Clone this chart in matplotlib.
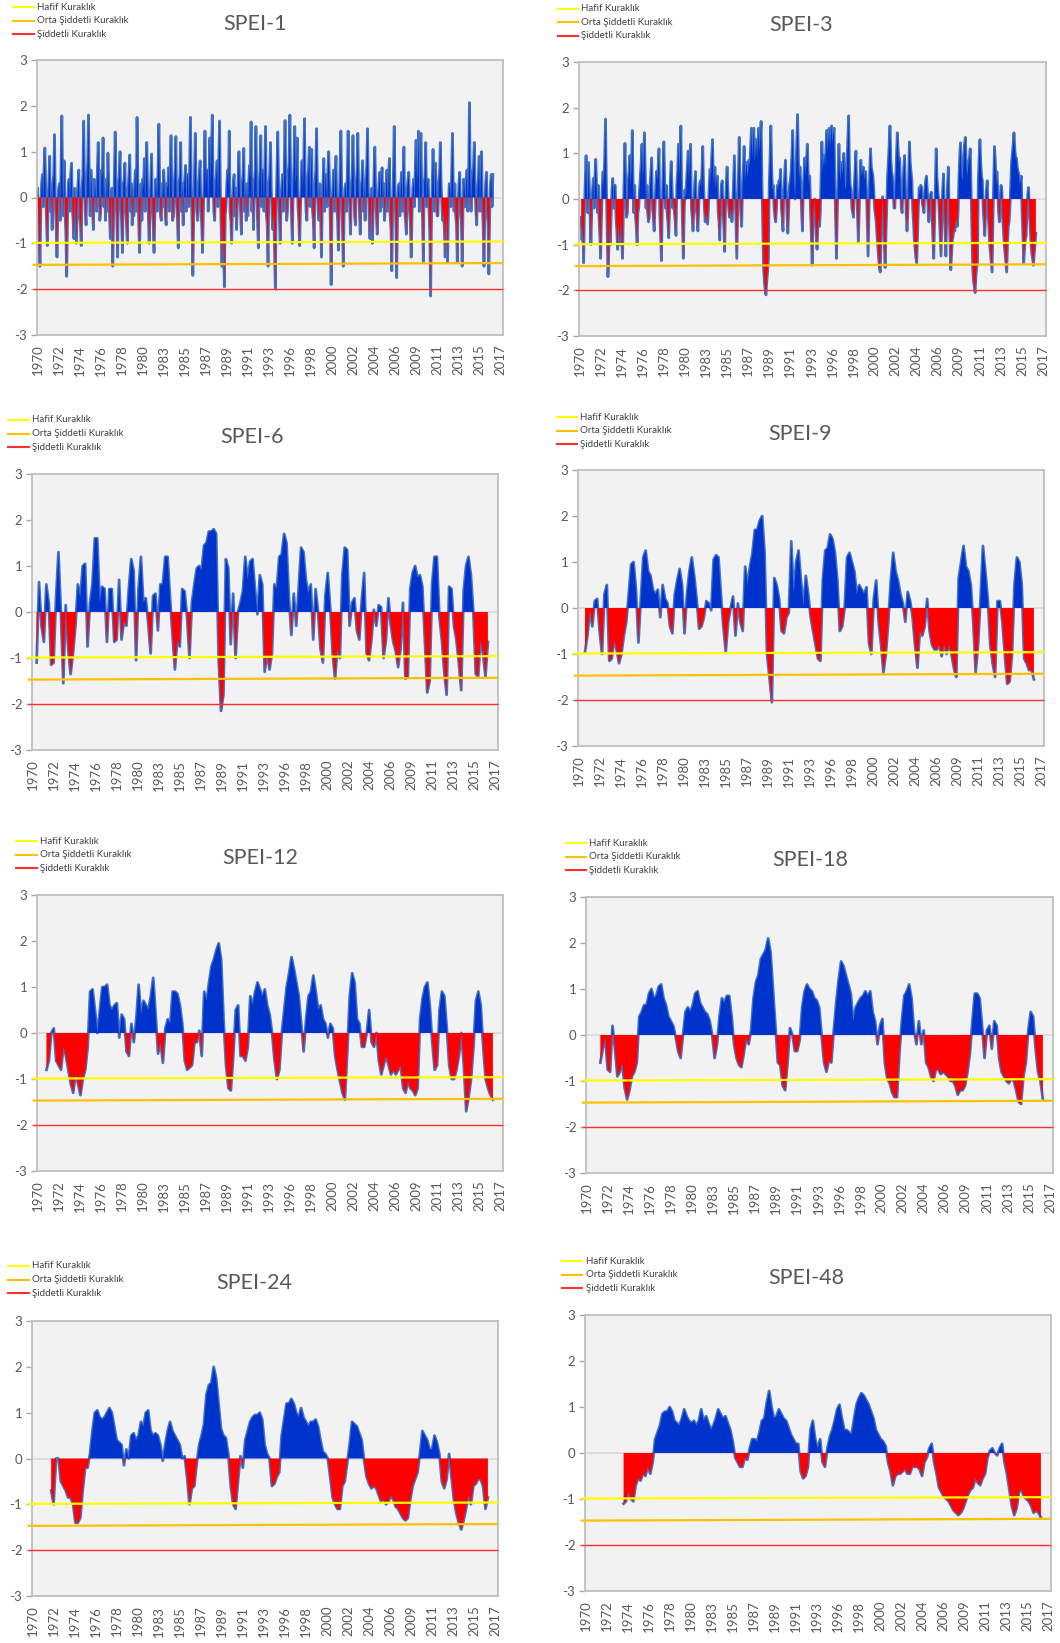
import numpy as np
import matplotlib
matplotlib.use("Agg")
import matplotlib.pyplot as plt
from matplotlib.lines import Line2D

FONT = ['Lato', 'DejaVu Sans']
plt.rcParams['font.family'] = FONT

# ---------------------------------------------------------------------------
# Data (month index 0 = January 1970). SPEI-1 and SPEI-3 are monthly,
# the longer scales are sampled every 3 months. Each series starts at the
# first month for which its accumulation window is complete.
# ---------------------------------------------------------------------------
N_SLOTS = 576          # monthly category slots, Jan 1970 .. Dec 2017
LABEL_STEP = 26        # a year label on every 26th month
FIRST_YEAR = 1970

# SPEI-1, one row per year (Jan .. Dec), 1970 .. 2016
spei_1 = [
    0.2, -0.4, -0.9, -1.5, -0.3, 0.3, 0.5, -0.2, 0.6, 1.08, 0.2, -0.5,
    -1.05, -0.2, 0.4, 0.9, -0.3, 0.2, -0.7, 0.3, 0.5, 1.37, -0.2, -0.6,
    -1.3, -0.4, 0.2, 0.3, -0.5, 0.6, 1.78, 0.3, -0.4, 0.8, -0.3, -0.8,
    -1.72, -0.5, 0.3, 0.4, -0.3, 0.5, 0.75, -0.2, -0.5, -0.9, 0.2, -0.4,
    -1.0, -0.3, 0.3, 0.6, -0.4, -0.6, -1.05, 0.2, 0.5, 1.67, 0.4, -0.3,
    -0.6, 0.3, 0.8, 1.8, 0.3, -0.4, 0.6, 0.2, -0.3, -0.7, 0.4, -0.2,
    0.3, -0.3, 0.6, 1.2, 0.2, -0.5, -0.3, 0.6, 0.4, 1.3, -0.2, 0.3,
    -0.5, 0.4, -0.3, 0.97, 0.3, -0.4, -0.9, -0.3, 0.2, -1.5, -0.4, 0.5,
    1.43, 0.2, -0.5, -1.3, 0.3, 0.5, 1.0, -0.2, -0.6, -1.2, 0.3, 0.4,
    0.75, -0.3, -0.6, -1.0, 0.2, 0.5, 0.93, -0.3, 0.3, -0.6, 0.2, -0.4,
    0.3, 0.6, -0.3, 1.75, 0.4, -0.5, -1.2, -0.4, 0.3, -0.5, 0.4, 0.2,
    0.85, -0.3, 0.5, 1.2, 0.3, -0.4, -1.0, -0.3, 0.4, 0.95, -0.2, -0.6,
    -1.2, -0.4, 0.4, 0.2, -0.3, 0.7, 1.6, 0.3, -0.4, -0.5, 0.3, -0.2,
    0.6, 0.2, -0.4, -0.6, 0.3, 0.2, 0.65, -0.3, 0.5, 1.35, 0.2, -0.5,
    -0.4, 0.3, 0.6, 1.33, -0.2, -0.5, -1.1, 0.3, 0.5, 1.2, -0.3, 0.3,
    -0.6, 0.2, 0.4, 0.7, -0.3, 0.4, 0.5, -0.2, 0.6, 1.75, 0.3, -0.6,
    -1.7, -0.5, 0.4, 1.4, 0.3, -0.3, -0.5, 0.2, 0.5, 0.8, -0.3, -0.6,
    -1.2, -0.3, 0.5, 1.45, 0.2, 0.6, 0.6, -0.3, 0.4, 1.3, 0.3, 0.9,
    1.8, 0.4, -0.3, -0.5, 0.3, 0.5, 0.8, -0.2, 0.7, 1.67, 0.2, -0.6,
    -1.5, -0.6, -1.2, -1.95, -0.4, -0.2, 0.3, 0.6, 0.2, 1.45, -0.3, -0.5,
    -1.0, -0.2, 0.3, 0.5, -0.4, 0.2, -0.7, -0.2, 0.4, 1.0, 0.2, -0.3,
    -0.8, 0.3, 0.5, 1.07, -0.3, 0.2, -0.5, 0.3, -0.4, 0.3, 0.7, 0.4,
    1.65, -0.3, 0.4, -0.7, 0.3, 0.6, 1.55, 0.2, -0.5, -1.1, 0.3, 0.6,
    1.35, -0.2, 0.6, 0.5, -0.3, 0.7, 1.55, -0.4, -0.6, -1.5, 0.3, 0.5,
    1.2, 0.2, -0.4, -0.7, -0.3, -1.2, -2.0, -0.3, 0.6, 1.43, 0.3, -0.4,
    -1.0, -0.2, 0.3, 0.5, -0.3, 0.6, 1.68, 0.4, -0.5, -0.3, 0.5, 0.8,
    1.8, 0.3, -0.4, -1.0, 0.2, 0.7, 1.55, 0.3, 0.5, 1.3, -0.2, -0.5,
    -1.05, -0.3, 0.4, 0.8, 0.2, 0.6, 1.72, 0.3, -0.3, -0.5, 0.4, 0.6,
    1.1, -0.2, 0.5, 1.05, -0.3, -0.5, -1.1, 0.3, 0.6, 1.5, 0.2, -0.3,
    -0.5, 0.3, -0.4, -1.3, -0.2, 0.4, 0.85, -0.3, 0.5, 0.3, -0.2, 0.6,
    1.0, 0.3, -0.6, -1.9, -0.4, 0.2, 0.6, -0.3, 0.4, 0.9, -0.2, -0.5,
    -1.15, -0.3, 0.5, 1.45, 0.2, -0.6, -1.5, -0.4, 0.2, 0.3, -0.3, 0.5,
    1.45, 0.3, -0.3, -0.8, 0.2, 0.5, 1.35, 0.3, -0.4, -0.6, 0.3, 0.6,
    1.4, 0.2, -0.3, -0.8, 0.2, 0.4, 0.8, -0.3, 0.3, -0.5, 0.4, 0.7,
    1.5, 0.2, -0.4, -0.9, -0.3, 0.2, -1.0, -0.3, 0.5, 1.1, 0.2, -0.4,
    -0.8, -0.2, 0.3, 0.55, -0.3, 0.4, 0.65, -0.2, 0.3, -0.5, -0.2, 0.3,
    0.6, -0.3, 0.4, 0.85, -0.4, -0.7, -1.6, -0.3, 0.5, 1.55, 0.2, -0.6,
    -1.75, -0.5, 0.2, 0.3, -0.4, 0.2, 0.55, -0.3, 0.4, 1.1, -0.3, -0.5,
    -0.8, 0.2, 0.4, 0.55, -0.3, -0.6, -1.3, -0.4, 0.2, 0.4, -0.2, 0.6,
    1.25, 0.3, 0.6, 1.45, -0.3, 0.4, 1.4, 0.2, -0.5, -1.4, 0.3, 0.5,
    1.2, -0.2, 0.3, 0.4, -0.3, -0.8, -2.15, -0.6, 0.3, 1.05, 0.3, -0.3,
    0.75, 0.2, -0.4, -0.4, 0.3, 0.5, 1.2, 0.3, -0.2, -0.5, -0.3, -0.7,
    -1.3, -0.4, -0.6, -1.4, -0.3, 0.3, 0.2, -0.2, 0.5, 1.4, 0.2, -0.3,
    0.3, -0.4, -0.6, -1.4, -0.2, 0.3, 0.55, -0.3, -0.5, -1.5, -0.3, 0.4,
    0.2, -0.2, 0.3, 0.6, -0.3, 0.5, 2.07, 0.4, -0.3, 0.3, 0.5, 0.7,
    1.2, 0.2, -0.3, -0.6, 0.2, 0.4, 0.9, -0.3, 0.5, 1.0, -0.2, -0.6,
    -1.5, -0.3, 0.3, 0.55, -0.3, -0.6, -1.67, -0.4, 0.3, 0.5, -0.2, 0.5,
]

# SPEI-3, monthly from March 1970, twelve values per row
spei_3 = [
    -0.4, -0.9, -0.5, -1.4, -0.3, 0.4, 0.95, 0.2, -0.3, 0.8, 0.3, -0.4,
    -1.0, -0.3, 0.2, 0.45, -0.2, 0.5, 0.87, 0.3, -0.3, 0.3, -0.4, -0.8,
    -1.3, -0.4, 0.3, 0.6, 0.2, 0.9, 1.75, 0.4, -0.6, -1.7, -1.2, -0.5,
    -1.0, -0.3, 0.2, 0.45, -0.2, 0.3, 0.3, -0.4, -0.7, -1.1, -0.5, -0.8,
    -1.0, -0.4, -0.9, -1.3, -0.3, 0.5, 1.22, 0.3, -0.4, -0.3, 0.4, 0.6,
    0.95, 0.3, 0.6, 1.5, 0.4, -0.3, 0.3, -0.4, -0.6, -1.0, -0.3, -0.2,
    0.2, 0.5, 0.8, 1.2, 0.4, 0.7, 1.45, 0.6, -0.2, 0.3, -0.3, -0.5,
    -0.4, 0.3, 0.6, 0.9, -0.2, -0.4, -0.7, -0.2, 0.3, 0.6, 0.4, 0.7,
    1.1, -0.3, -0.8, -1.35, -0.2, 0.6, 1.25, 0.4, -0.2, 0.3, -0.3, -0.5,
    -0.85, -0.2, 0.4, 0.82, 0.3, -0.2, 0.0, -0.3, -0.5, -0.8, 0.3, 0.6,
    1.2, 0.5, 0.9, 1.6, 0.2, -0.6, -1.3, -0.4, 0.2, 0.0, 0.4, 0.7,
    1.05, 0.4, 0.8, 1.2, -0.2, -0.4, -0.7, -0.2, 0.3, 0.6, -0.2, -0.4,
    -0.7, -0.2, 0.3, 0.4, 0.2, 0.6, 1.15, 0.3, -0.2, -0.5, -0.3, -0.4,
    -0.55, -0.2, 0.3, 0.65, 0.4, 0.9, 1.3, 0.5, 0.3, 0.7, 0.2, 0.4,
    0.5, -0.3, -0.5, -0.9, -0.2, 0.3, 0.4, -0.3, -0.6, -1.15, -0.2, 0.3,
    0.7, 0.2, -0.2, -0.4, -0.3, -0.2, -0.5, -0.2, 0.4, 0.95, 0.2, -0.6,
    -1.3, -0.4, 0.6, 1.35, 0.3, -0.3, -0.6, 0.2, 0.6, 1.15, 0.4, 0.6,
    0.8, 0.5, 0.6, 0.85, 0.7, 1.1, 1.55, 0.9, 1.2, 1.55, 0.8, 1.0,
    1.3, 0.9, 1.2, 1.55, 1.0, 1.3, 1.7, 0.4, -0.6, -1.5, -1.8, -2.0,
    -2.1, -1.8, -1.6, -1.3, 0.3, 0.9, 1.6, 0.7, 0.2, 0.3, -0.2, -0.4,
    -0.5, -0.2, 0.3, 0.2, 0.4, 0.3, 0.65, -0.2, -0.4, -0.7, 0.2, 0.5,
    0.85, 0.2, -0.4, -0.75, -0.2, 0.3, 0.4, 0.6, 1.0, 1.5, 0.6, 0.3,
    0.0, 0.6, 1.2, 1.85, 0.9, 0.4, 0.7, 0.3, -0.3, -0.7, 0.2, 0.6,
    0.9, 0.5, 0.8, 1.2, 0.6, 0.3, 0.5, -0.3, -0.8, -1.45, -0.5, -0.2,
    0.0, -0.4, -0.8, -1.1, -0.6, -0.4, -0.6, -0.3, 0.5, 1.25, 0.6, 0.8,
    0.95, 0.7, 1.1, 1.5, 1.0, 1.3, 1.55, 1.1, 1.4, 1.6, 1.2, 1.4,
    1.55, 0.3, -0.5, -1.3, -0.3, 0.5, 1.2, 0.6, 0.4, 0.8, 0.5, 0.7,
    1.0, 0.5, 0.2, 0.3, 0.8, 1.3, 1.82, 0.7, 0.3, 0.2, -0.2, -0.3,
    -0.4, 0.3, 0.7, 1.05, 0.2, -0.4, -0.95, -0.3, 0.4, 0.85, 0.5, 0.6,
    0.7, 0.4, 0.5, 0.6, 0.2, -0.5, -1.25, -0.3, 0.6, 1.1, 0.7, 0.6,
    0.5, 0.2, -0.2, -0.35, -0.5, -0.8, -1.05, -1.3, -1.5, -1.6, -0.9, -0.3,
    0.05, -0.4, -1.0, -1.5, -0.8, -0.2, 0.5, 0.8, 1.2, 1.6, 0.9, 0.6,
    0.5, 0.2, -0.2, -0.2, 0.4, 0.9, 1.45, 1.1, 0.8, 0.9, 0.3, -0.2,
    -0.3, 0.3, 0.7, 0.95, 0.3, -0.3, -0.7, -0.3, 0.5, 1.25, 0.8, 0.6,
    0.4, -0.2, -0.5, -0.9, -1.1, -1.3, -1.4, -0.8, -0.2, 0.25, 0.1, 0.3,
    0.25, -0.1, -0.2, -0.3, 0.2, 0.4, 0.5, 0.2, -0.2, -0.5, -0.2, 0.1,
    0.15, -0.4, -0.9, -1.3, -0.5, 0.3, 1.1, 0.5, 0.2, 0.0, -0.4, -0.8,
    -1.25, -0.5, 0.2, 0.55, -0.2, -0.7, -1.25, -0.4, 0.3, 0.7, -0.3, -0.9,
    -1.55, -1.2, -0.9, -0.8, -0.6, -0.7, -0.5, -0.4, -0.6, -0.3, 0.4, 0.9,
    1.23, 0.7, 0.4, 0.5, 0.9, 1.2, 1.35, 0.8, 0.5, 0.6, 0.8, 0.9,
    1.1, 0.3, -0.6, -1.5, -1.8, -1.9, -2.05, -1.7, -1.5, -1.4, 0.4, 0.9,
    1.3, 0.8, 0.5, 0.4, -0.2, -0.5, -0.8, -0.3, 0.2, 0.4, -0.3, -0.6,
    -1.0, -1.2, -1.4, -1.6, -0.5, 0.4, 1.15, 0.8, 0.3, 0.6, 0.2, -0.3,
    -0.5, -0.2, 0.3, 0.2, -0.4, -0.7, -1.0, -1.2, -1.4, -1.6, -1.0, -0.6,
    -0.5, -0.2, 0.3, 0.8, 1.0, 1.2, 1.45, 1.1, 0.9, 0.9, 0.7, 0.6,
    0.55, 0.3, 0.4, 0.5, -0.3, -0.8, -1.4, -1.1, -0.9, -0.8, -0.3, 0.1,
    0.25, -0.3, -0.6, -1.0, -1.2, -1.3, -1.45, -1.2, -1.0, -0.75,
]

spei_6 = [
    -1.1, 0.65, -0.3, -0.65, 0.6, 0.2, -1.15, -1.1, 0.3, 1.3,
    0.0, -1.55, 0.15, -0.8, -1.35, -0.9, -0.3, 0.6, 0.3, 1.0,
    1.05, -0.75, 0.2, 0.6, 1.6, 1.6, 0.2, 0.55, 0.5, -0.65,
    0.5, 0.5, -0.65, -0.6, 0.7, -0.6, -0.2, -0.3, 0.5, 1.15,
    0.9, -1.05, 0.5, 1.2, 0.2, 0.3, -0.25, -0.9, 0.35, 0.4,
    -0.4, 0.6, 0.6, 1.2, 1.2, 0.3, -0.5, -1.25, -0.6, -0.75,
    0.5, 0.45, -0.1, -1.0, 0.2, 0.6, 0.95, 1.0, 0.9, 1.45,
    1.5, 1.75, 1.75, 1.8, 1.7, -1.0, -2.15, -1.8, 1.15, 0.95,
    -0.7, 0.4, -1.0, 0.0, 0.2, 0.45, 1.2, 0.7, 1.1, 1.15,
    0.5, -0.05, 0.8, 0.6, -1.3, -0.9, -1.25, -0.9, 0.6, 0.5,
    1.2, 1.25, 1.7, 1.5, 0.3, -0.5, 0.4, -0.3, 0.5, 1.4,
    1.3, 0.7, 0.4, 0.6, -0.6, 0.5, 0.0, -0.8, -1.1, 0.35,
    0.85, 0.1, -0.9, -1.45, -0.8, -1.0, 0.8, 1.4, 1.35, -0.3,
    0.2, 0.3, -0.4, -0.6, 0.25, 0.85, -0.9, -1.05, -0.6, 0.05,
    -0.3, 0.15, 0.1, -1.0, -0.6, 0.3, -0.3, -0.65, -0.85, -1.2,
    -0.8, 0.2, -1.45, -1.4, 0.5, 0.85, 1.0, 0.75, 0.8, 0.55,
    -0.6, -1.75, -1.5, 0.6, 1.2, 1.2, -0.1, -0.6, -1.3, -1.8,
    0.55, 0.5, -0.3, -0.6, -1.1, -1.7, 0.45, 1.0, 1.2, 0.8,
    0.0, -1.35, -1.4, -0.6, -0.9, -1.4, -0.65,
]

spei_9 = [
    -0.95, -0.6, -0.05, -0.4, 0.15, 0.2, -0.5, -1.0, 0.3, 0.5,
    -1.15, -1.1, -0.7, -0.9, -1.2, -1.0, -0.6, -0.3, 0.3, 0.95,
    1.0, 0.4, -0.75, 0.2, 1.1, 1.25, 0.8, 0.7, 0.4, 0.3,
    0.4, -0.2, 0.5, 0.2, 0.1, -0.4, -0.55, 0.3, 0.6, 0.85,
    0.5, -0.55, 0.3, 0.8, 1.1, 0.7, 0.2, -0.45, -0.4, -0.2,
    0.15, 0.1, -0.05, 1.05, 1.15, 1.1, 0.3, -0.4, -0.95, -0.3,
    0.0, 0.25, -0.6, 0.1, -0.3, -0.5, 0.9, 0.5, 0.9, 1.2,
    1.7, 1.7, 1.9, 2.0, 1.2, -1.0, -1.5, -2.05, 0.65, 0.5,
    0.2, -0.5, -0.55, -0.2, -0.1, 1.45, 0.3, 1.0, 1.25, 0.6,
    0.05, 0.7, 0.3, -0.2, -0.5, -0.8, -1.1, -1.15, 0.6, 1.25,
    1.3, 1.6, 1.5, 1.2, 0.6, -0.5, -0.4, 0.0, 1.1, 1.2,
    1.0, 0.8, 0.3, 0.5, 0.4, 0.3, 0.45, -0.75, -1.0, 0.2,
    0.6, -0.3, -0.8, -1.4, -1.0, -0.3, 0.6, 1.2, 0.8, 0.6,
    0.3, 0.1, -0.3, 0.35, 0.15, -0.2, -0.8, -1.3, -0.5, -0.6,
    -0.4, 0.2, -0.5, -0.8, -0.9, -0.9, -0.8, -1.05, -0.8, -1.0,
    -0.8, -1.0, -1.3, -1.5, 0.65, 1.0, 1.35, 0.9, 0.8, 0.5,
    -0.3, -1.4, -0.8, 0.2, 1.35, 0.8, 0.2, -0.8, -1.2, -1.5,
    0.15, 0.15, -0.3, -1.0, -1.65, -1.6, -1.0, 0.5, 1.1, 1.0,
    0.5, -1.1, -1.2, -1.35, -1.35, -1.55,
]

spei_12 = [
    -0.8, -0.6, 0.0, 0.1, -0.6, -0.7, -0.8, -0.3, -0.5, -0.8,
    -1.1, -1.3, -0.9, -1.1, -1.35, -1.0, -0.8, -0.3, 0.9, 0.95,
    0.5, 0.0, 0.5, 1.0, 1.0, 1.05, 0.6, 0.5, 0.6, 0.65,
    -0.1, 0.4, 0.3, -0.4, -0.5, 0.2, -0.2, 0.3, 1.05, 0.4,
    0.7, 0.6, 0.5, 0.8, 1.2, 0.4, -0.45, -0.2, -0.65, 0.1,
    0.3, 0.2, 0.9, 0.9, 0.85, 0.6, 0.2, -0.6, -0.8, -0.75,
    -0.7, -0.2, -0.2, 0.05, -0.5, 0.9, 0.7, 1.1, 1.45, 1.6,
    1.8, 1.95, 1.6, 0.3, -0.7, -1.2, -1.25, -0.5, 0.5, 0.6,
    -0.5, -0.5, -0.6, -0.3, 0.8, 0.6, 0.9, 1.1, 0.95, 0.8,
    0.95, 0.6, 0.4, 0.0, -0.6, -1.0, -0.8, 0.0, 0.5, 1.0,
    1.3, 1.65, 1.4, 1.1, 0.8, 0.2, -0.4, 0.3, 0.8, 0.9,
    1.25, 0.9, 0.5, 0.6, 0.3, 0.2, -0.1, 0.2, 0.1, -0.5,
    -0.8, -1.05, -1.3, -1.45, -0.4, 0.8, 1.3, 1.1, 0.3, 0.2,
    -0.3, -0.3, 0.0, 0.5, -0.2, -0.3, 0.0, -0.6, -0.9, -0.7,
    -0.5, -0.7, -0.9, -0.8, -0.9, -0.8, -0.7, -1.2, -1.3, -1.05,
    -1.2, -1.25, -1.35, -1.2, 0.3, 0.75, 1.0, 1.1, 0.6, -0.2,
    -0.8, -0.7, 0.5, 0.9, 0.8, 0.1, -0.7, -1.0, -1.0, -0.8,
    -0.5, 0.0, -0.7, -1.7, -1.4, -1.0, -0.3, 0.7, 0.9, 0.6,
    -0.3, -1.0, -1.2, -1.35, -1.45,
]

spei_18 = [
    -0.6, -0.3, -0.05, -0.75, -0.8, 0.2, -0.3, -0.9, -0.8, -0.6,
    -1.15, -1.4, -1.2, -0.9, -0.8, -0.6, 0.4, 0.5, 0.65, 0.65,
    0.9, 1.0, 0.8, 0.85, 1.05, 1.1, 0.8, 0.65, 0.4, 0.3,
    0.2, -0.05, -0.35, -0.5, 0.0, 0.5, 0.6, 0.5, 0.65, 0.9,
    0.95, 0.7, 0.6, 0.5, 0.45, 0.3, 0.0, -0.5, -0.2, 0.4,
    0.8, 0.7, 0.85, 0.85, 0.4, -0.2, -0.5, -0.65, -0.7, -0.4,
    -0.05, -0.2, 0.1, 0.8, 1.15, 1.3, 1.65, 1.75, 1.85, 2.1,
    1.8, 1.0, 0.2, -0.6, -0.65, -1.1, -1.2, -0.6, 0.15, 0.0,
    -0.35, -0.35, -0.1, 0.6, 0.95, 1.1, 1.0, 0.95, 0.8, 0.75,
    0.6, 0.0, -0.6, -0.8, -0.55, -0.6, 0.1, 0.7, 1.2, 1.6,
    1.5, 1.3, 1.1, 0.9, 0.3, 0.6, 0.7, 0.8, 0.85, 0.95,
    0.85, 0.95, 0.5, 0.3, -0.2, 0.2, 0.35, -0.6, -0.95, -1.05,
    -1.25, -1.35, -1.35, -0.4, 0.3, 0.85, 0.95, 1.1, 0.8, 0.1,
    -0.2, 0.3, -0.2, 0.1, -0.6, -0.7, -0.9, -1.0, -0.75, -0.75,
    -0.85, -0.8, -0.85, -0.9, -1.0, -1.0, -1.1, -1.3, -1.2, -1.2,
    -1.1, -0.8, -0.4, 0.3, 0.9, 0.9, 0.8, 0.2, -0.5, 0.1,
    0.2, -0.3, 0.3, 0.2, -0.5, -0.8, -0.9, -1.0, -1.05, -0.95,
    -1.0, -1.2, -1.45, -1.5, -0.9, -0.6, 0.1, 0.5, 0.4, -0.3,
    -0.8, -1.0, -1.4,
]

spei_24 = [
    -0.7, -1.0, 0.0, 0.0, -0.5, -0.6, -0.7, -0.85, -0.85, -1.0,
    -1.4, -1.4, -1.3, -0.7, -0.2, -0.2, 0.1, 0.6, 1.0, 1.05,
    0.9, 0.85, 0.9, 1.0, 1.1, 1.0, 0.7, 0.4, 0.35, 0.3,
    -0.15, 0.2, 0.0, 0.5, 0.55, 0.4, 0.5, 0.8, 0.7, 1.0,
    1.05, 0.6, 0.5, 0.55, 0.5, 0.3, -0.05, 0.3, 0.6, 0.8,
    0.6, 0.5, 0.4, 0.3, 0.0, 0.05, -0.4, -1.0, -0.65, -0.6,
    -0.1, 0.3, 0.5, 0.75, 1.4, 1.6, 1.65, 2.0, 1.75, 1.2,
    0.65, 0.5, 0.45, 0.1, -0.6, -1.0, -1.1, -0.5, 0.05, -0.2,
    0.4, 0.6, 0.8, 0.9, 0.95, 0.95, 1.0, 0.85, 0.3, 0.1,
    0.0, -0.6, -0.55, -0.4, -0.3, 0.5, 0.85, 1.2, 1.2, 1.3,
    1.2, 1.0, 0.9, 1.1, 0.9, 0.8, 0.7, 0.8, 0.8, 0.85,
    0.7, 0.4, 0.15, 0.1, 0.0, -0.4, -0.85, -1.0, -1.1, -1.1,
    -0.6, -0.5, -0.1, 0.3, 0.8, 0.75, 0.7, 0.55, 0.4, -0.05,
    -0.4, -0.55, -0.65, -0.6, -0.65, -0.8, -0.95, -0.9, -1.0, -0.95,
    -0.8, -0.9, -1.05, -1.1, -1.2, -1.3, -1.35, -1.3, -0.9, -0.6,
    -0.45, -0.3, 0.1, 0.6, 0.5, 0.4, 0.2, 0.2, 0.5, 0.35,
    0.1, -0.5, -0.65, -0.45, 0.1, -0.4, -0.9, -1.2, -1.4, -1.55,
    -1.35, -1.1, -0.8, -1.0, -0.6, -0.55, -0.45, -0.45, -0.6, -1.1,
    -0.85,
]

spei_48 = [
    -1.1, -1.05, -0.85, -1.0, -1.05, -0.7, -0.55, -0.6, -0.45, -0.5,
    -0.3, -0.45, -0.2, 0.3, 0.45, 0.6, 0.85, 0.9, 0.9, 1.0,
    0.9, 0.7, 0.65, 0.6, 0.75, 0.95, 0.8, 0.7, 0.65, 0.7,
    0.6, 0.7, 0.95, 0.7, 0.8, 0.65, 0.5, 0.6, 0.75, 0.95,
    0.85, 0.75, 0.8, 0.65, 0.5, 0.25, -0.1, -0.2, -0.3, -0.3,
    -0.1, -0.15, 0.1, 0.3, 0.3, 0.25, 0.45, 0.7, 0.75, 1.1,
    1.35, 1.0, 0.75, 0.8, 0.95, 0.85, 0.75, 0.7, 0.55, 0.4,
    0.3, 0.2, 0.2, -0.4, -0.55, -0.5, -0.3, 0.5, 0.7, 0.3,
    0.1, 0.3, -0.2, -0.3, 0.1, 0.35, 0.5, 0.7, 0.95, 1.05,
    0.75, 0.5, 0.5, 0.45, 0.4, 0.75, 1.05, 1.2, 1.3, 1.25,
    1.15, 1.05, 0.9, 0.75, 0.5, 0.4, 0.3, 0.25, 0.15, -0.2,
    -0.4, -0.7, -0.5, -0.45, -0.45, -0.4, -0.35, -0.45, -0.45, -0.3,
    -0.3, -0.3, -0.35, -0.5, -0.2, -0.1, 0.1, 0.2, -0.2, -0.45,
    -0.75, -0.85, -0.95, -1.0, -1.05, -1.15, -1.25, -1.3, -1.35, -1.3,
    -1.2, -1.05, -0.9, -0.8, -0.75, -0.55, -0.65, -0.7, -0.55, -0.45,
    -0.1, 0.05, 0.1, 0.0, -0.05, 0.1, 0.2, -0.2, -0.45, -0.8,
    -1.15, -1.35, -1.2, -0.85, -0.8, -0.95, -1.0, -1.05, -1.15, -1.3,
    -1.25, -1.3, -1.4,
]

SCALES = [1, 3, 6, 9, 12, 18, 24, 48]
STEPS = [1, 1, 3, 3, 3, 3, 3, 3]          # months between stored values
SERIES = [spei_1, spei_3, spei_6, spei_9, spei_12, spei_18, spei_24, spei_48]
TITLES = ['SPEI-1', 'SPEI-3', 'SPEI-6', 'SPEI-9',
          'SPEI-12', 'SPEI-18', 'SPEI-24', 'SPEI-48']

# drought class lines: label, colour, value at left edge, value at right edge, width
CLASS_LABELS = ['Hafif Kuraklık', 'Orta Şiddetli Kuraklık', 'Şiddetli Kuraklık']
CLASS_COLORS = ['#FFFF00', '#FFC000', '#FF3030']
CLASS_LEFT = [-0.99, -1.47, -2.0]
CLASS_RIGHT = [-0.96, -1.43, -2.0]
CLASS_WIDTHS = [1.6, 1.6, 1.0]

# ---------------------------------------------------------------------------
# Layout (pixels on a 1060 x 1643 canvas)
# ---------------------------------------------------------------------------
W, H = 1060, 1643
# plot area: left, top, right, bottom
BOXES = [
    (37, 60, 503, 335), (579, 62, 1046, 336),
    (32, 474, 498, 750), (578, 470, 1044, 746),
    (37, 895, 503, 1171), (586, 897, 1053, 1173),
    (32, 1321, 498, 1596), (585, 1315, 1051, 1591),
]
TITLE_POS = [(255, 24), (801, 25), (252, 437), (800, 434),
             (260, 858), (810, 860), (254, 1283), (806, 1278)]
# legend: line start x, line end x, y of the first entry, text x
LEGEND_POS = [(13, 34, 7, 37), (558, 578, 8.5, 581),
              (8, 29, 420, 32), (557, 577, 417, 580),
              (16, 37, 841, 40), (566, 586, 843, 589),
              (8, 29, 1266, 32), (562, 582, 1261, 586)]
LEGEND_GAP = 13.6

BLUE_FILL = '#0033CC'
RED_FILL = '#FF0000'
OUTLINE = '#4472C4'
TEXT_GRAY = '#595959'

fig = plt.figure(figsize=(W / 100, H / 100), dpi=100)
fig.patch.set_facecolor('white')

tick_pos = np.arange(0, N_SLOTS, LABEL_STEP)
tick_lab = [str(FIRST_YEAR + p // 12) for p in tick_pos]

for i, (vals, scale, step) in enumerate(zip(SERIES, SCALES, STEPS)):
    l, t, r, b = BOXES[i]
    ax = fig.add_axes([l / W, 1 - b / H, (r - l) / W, (b - t) / H])
    ax.set_facecolor('#F2F2F2')

    v = np.asarray(vals, dtype=float)
    x = (scale - 1) + step * np.arange(len(v))

    ax.axhline(0, color='#D9D9D9', lw=1.2, zorder=1)
    # the series line sits underneath the coloured areas, so it shows as a
    # light rim around every positive and negative excursion
    ax.plot(x, v, color=OUTLINE, lw=2.0, solid_joinstyle='round', zorder=2)
    ax.fill_between(x, v, 0, where=v >= 0, interpolate=True,
                    color=BLUE_FILL, lw=0, zorder=3)
    ax.fill_between(x, v, 0, where=v <= 0, interpolate=True,
                    color=RED_FILL, lw=0, zorder=3)

    x0, x1 = -6, N_SLOTS - 0.5
    for c, yl, yr, lw in zip(CLASS_COLORS, CLASS_LEFT, CLASS_RIGHT, CLASS_WIDTHS):
        ax.plot([x0, x1], [yl, yr], color=c, lw=lw, zorder=4, clip_on=False,
                solid_capstyle='butt')

    ax.set_xlim(-0.7, N_SLOTS - 0.5)
    ax.set_ylim(-3, 3)
    ax.set_yticks(range(-3, 4))
    ax.set_yticklabels([str(k) for k in range(-3, 4)], fontsize=9.5,
                       color=TEXT_GRAY)
    ax.set_xticks(tick_pos)
    ax.set_xticklabels(tick_lab, rotation=90, fontsize=9.5, color=TEXT_GRAY)
    ax.tick_params(axis='x', length=0, pad=7)
    ax.tick_params(axis='y', length=4, width=1, color='#A6A6A6', pad=3)
    for s in ax.spines.values():
        s.set_color('#BFBFBF')
        s.set_linewidth(1.3)

    # title
    tx, ty = TITLE_POS[i]
    fig.text(tx / W, 1 - ty / H, TITLES[i], ha='center', va='center',
             fontsize=15.5, color=TEXT_GRAY)

    # legend
    lx0, lx1, ly, ltx = LEGEND_POS[i]
    for j, (lab, c) in enumerate(zip(CLASS_LABELS, CLASS_COLORS)):
        yy = 1 - (ly + j * LEGEND_GAP) / H
        fig.add_artist(Line2D([lx0 / W, lx1 / W], [yy, yy], color=c, lw=1.5,
                              transform=fig.transFigure))
        fig.text(ltx / W, yy, lab, ha='left', va='center', fontsize=7,
                 color='#404040')

fig.savefig('out.png', dpi=100, facecolor='white')
